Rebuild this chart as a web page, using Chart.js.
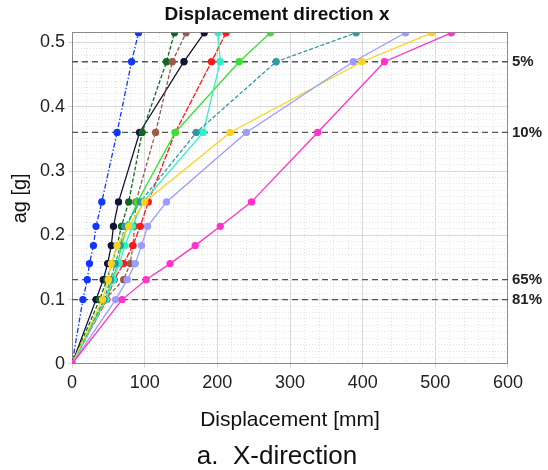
<!DOCTYPE html>
<html>
<head>
<meta charset="utf-8">
<script src="https://cdn.jsdelivr.net/npm/chart.js@4.4.1/dist/chart.umd.min.js"></script>
<style>
  html, body { margin: 0; padding: 0; background: #ffffff; }
  #wrap { width: 548px; height: 470px; }
</style>
</head>
<body>
<div id="wrap"><canvas id="c" width="548" height="470"></canvas></div>
<script>
// ---- data ----
const agLevels = [0, 0.10, 0.131, 0.156, 0.184, 0.214, 0.252, 0.36, 0.47, 0.515];

const dispBlue      = [0, 15, 21, 24, 29.5, 33, 41, 62, 82, 91.5];
const dispNavy      = [0, 33, 43, 49, 54, 57, 64, 93, 154, 182];
const dispDarkGreen = [0, 38, 48, 55, 62, 68, 78, 96.5, 130, 141];
const dispBrown     = [0, 45, 71, 80, 84, 86, 88, 115, 138, 157];
const dispRed       = [0, 48, 58, 71, 83.6, 94, 105, 142, 192, 212];
const dispLavender  = [0, 60, 76, 87, 95.6, 104, 130, 240, 387, 459];
const dispPink      = [0, 69, 102, 135, 169.5, 204, 247, 338, 430, 522];
const dispTeal      = [0, 44, 53, 59.6, 66.5, 72.5, 94, 171, 281, 391];
const dispGreen     = [0, 46, 55, 63, 68, 76, 90, 142, 230, 273];
const dispCyan      = [0, 47, 57, 65, 73, 83, 98, 180.5, 204, 201];
const dispYellow    = [0, 42, 50, 54, 62, 78, 100, 217.5, 399, 495];

const refLevels = [0.47, 0.36, 0.131, 0.10];
const refLabels = ['5%', '10%', '65%', '81%'];

const xTicks = [0, 100, 200, 300, 400, 500, 600];
const yTicks = [0, 0.1, 0.2, 0.3, 0.4, 0.5];

// ---- build datasets ----
function series(disp, color, dash) {
  return {
    data: disp.map((d, i) => ({ x: d, y: agLevels[i] })),
    borderColor: color,
    backgroundColor: color,
    pointBackgroundColor: color,
    pointBorderColor: color,
    borderWidth: 1.3,
    pointRadius: 3,
    pointHoverRadius: 3,
    borderDash: dash || [],
    tension: 0,
    order: 1
  };
}

const datasets = [
  series(dispPink, '#ff33cc'),
  series(dispLavender, '#9a9cff'),
  series(dispYellow, '#ffd21a'),
  series(dispTeal, '#2a9aa6', [4, 2]),
  series(dispCyan, '#33f0c8'),
  series(dispGreen, '#33e633'),
  series(dispRed, '#ff1a1a', [6, 1.5]),
  series(dispBrown, '#9b5a4c', [4, 2]),
  series(dispDarkGreen, '#0e6a22', [4, 2]),
  series(dispNavy, '#12123a'),
  series(dispBlue, '#1036ff', [5, 2, 1.5, 2])
];

refLevels.forEach(lv => {
  datasets.push({
    data: [{ x: 0, y: lv }, { x: 600, y: lv }],
    borderColor: '#555555',
    borderWidth: 1.3,
    borderDash: [6, 4],
    pointRadius: 0,
    pointHoverRadius: 0,
    order: 5
  });
});

const fam = '"Liberation Sans", Arial, sans-serif';

new Chart(document.getElementById('c'), {
  type: 'line',
  data: { datasets },
  options: {
    responsive: false,
    animation: false,
    devicePixelRatio: 1,
    layout: { padding: { left: 8, right: 2, top: 0, bottom: 0 } },
    plugins: {
      legend: { display: false },
      tooltip: { enabled: false },
      title: {
        display: true,
        text: 'Displacement direction x',
        font: { family: fam, size: 19, weight: 'bold' },
        color: '#111',
        padding: { top: 3, bottom: 7 }
      },
      subtitle: {
        display: true,
        position: 'bottom',
        text: 'a.  X-direction',
        font: { family: fam, size: 26, weight: 'normal', lineHeight: 1.05 },
        color: '#111',
        padding: { top: 10, bottom: 0 }
      }
    },
    scales: {
      x: {
        type: 'linear',
        position: 'bottom',
        min: 0, max: 600,
        afterBuildTicks: s => { s.ticks = xTicks.map(v => ({ value: v })); },
        ticks: { font: { family: fam, size: 18 }, color: '#222', padding: 4 },
        grid: { color: '#d6d6d6', lineWidth: 1, drawTicks: true, tickLength: 4 },
        border: { display: true, color: '#8a8a8a', width: 1 },
        title: {
          display: true, text: 'Displacement [mm]',
          font: { family: fam, size: 21 }, color: '#111',
          padding: { top: 10, bottom: 0 }
        }
      },
      x2: {
        type: 'linear',
        position: 'top',
        min: 0, max: 600,
        ticks: { display: false, stepSize: 20 },
        grid: { color: '#e2e2e2', lineWidth: 1, drawTicks: false },
        border: { display: true, color: '#8a8a8a', width: 1, dash: [1, 2] }
      },
      y: {
        type: 'linear',
        position: 'left',
        min: 0, max: 0.515,
        afterBuildTicks: s => { s.ticks = yTicks.map(v => ({ value: v })); },
        ticks: { font: { family: fam, size: 18 }, color: '#222', padding: 3 },
        grid: { color: '#d6d6d6', lineWidth: 1, tickLength: 4 },
        border: { display: true, color: '#8a8a8a', width: 1 },
        title: {
          display: true, text: 'ag [g]',
          font: { family: fam, size: 20 }, color: '#111',
          padding: { top: 0, bottom: 5 }
        }
      },
      y2: {
        type: 'linear',
        position: 'left',
        min: 0, max: 0.515,
        ticks: { display: false, stepSize: 0.01 },
        grid: { color: '#e2e2e2', lineWidth: 1, drawTicks: false },
        border: { display: false, dash: [1, 2] }
      },
      yr: {
        type: 'linear',
        position: 'right',
        min: 0, max: 0.515,
        afterBuildTicks: s => { s.ticks = refLevels.map(v => ({ value: v })); },
        ticks: {
          font: { family: fam, size: 15, weight: 'bold' }, color: '#222', padding: 4,
          callback: (v) => { const i = refLevels.indexOf(v); return i >= 0 ? refLabels[i] : ''; }
        },
        grid: { display: false, drawTicks: false },
        border: { display: true, color: '#8a8a8a', width: 1 }
      }
    }
  }
});
</script>
</body>
</html>
